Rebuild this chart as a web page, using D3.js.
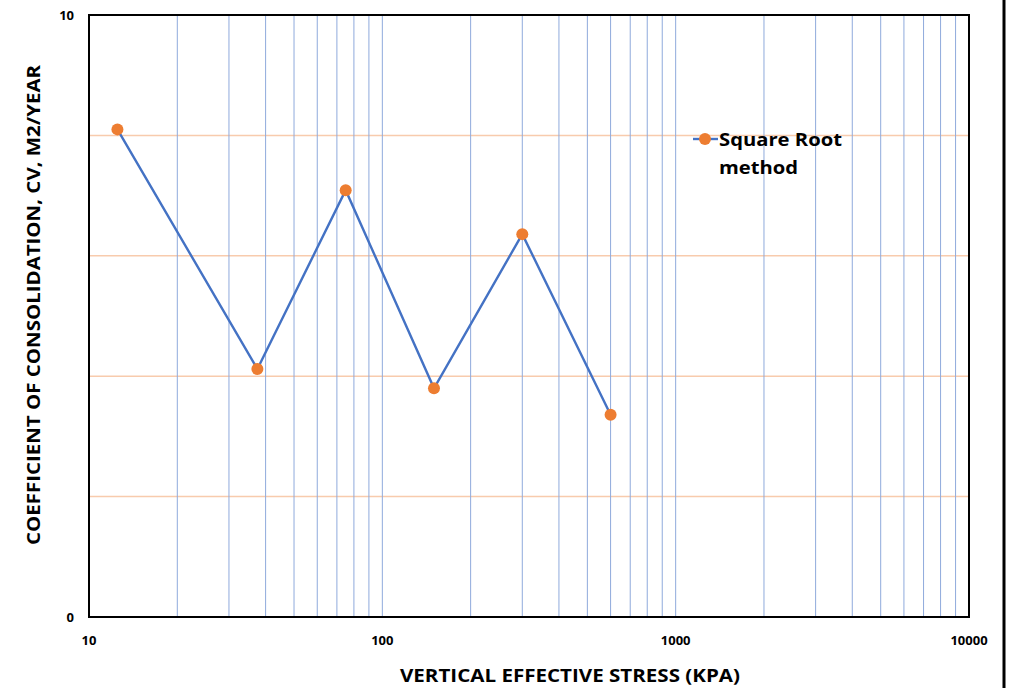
<!DOCTYPE html>
<html><head><meta charset="utf-8">
<script src="https://cdn.jsdelivr.net/npm/d3@7"></script>
<style>body{margin:0;background:#fff}svg{display:block}text{font-family:"Open Sans",Lato,sans-serif;font-weight:bold;fill:#000}</style>
</head><body><svg id="c" width="1009" height="688"></svg>
<script>
const stress = [12.5, 37.5, 75, 150, 300, 600];
const cv = [8.1, 4.12, 7.09, 3.80, 6.36, 3.36];
const seriesName = ["Square Root", "method"];
const xTickLabels = [10, 100, 1000, 10000];
const yTickLabels = [0, 10];
const yGrid = [2, 4, 6, 8];

const svg = d3.select("#c");
const L = 89, R = 969, T = 15, B = 617;
const x = d3.scaleLog().domain([10, 10000]).range([L, R]);
const y = d3.scaleLinear().domain([0, 10]).range([B, T]);

svg.append("g").selectAll("line").data(yGrid).join("line")
  .attr("x1", L).attr("x2", R).attr("y1", d => y(d)).attr("y2", d => y(d))
  .attr("stroke", "#F8CBAD").attr("stroke-width", 1.5);
const vt = [];
for (let d = 10; d < 10000; d *= 10) for (let k = 2; k <= 10; k++) vt.push(d * k);
svg.append("g").selectAll("line").data(vt.filter(v => v < 10000)).join("line")
  .attr("x1", d => x(d)).attr("x2", d => x(d)).attr("y1", T).attr("y2", B)
  .attr("stroke", "#8FAADC").attr("stroke-width", 1);

svg.append("rect").attr("x", L).attr("y", T).attr("width", R - L).attr("height", B - T)
  .attr("fill", "none").attr("stroke", "#000").attr("stroke-width", 2);

svg.append("line").attr("x1", 1004).attr("x2", 1004).attr("y1", 0).attr("y2", 688)
  .attr("stroke", "#000").attr("stroke-width", 3);

const pts = stress.map((s, i) => [s, cv[i]]);
svg.append("path").datum(pts)
  .attr("d", d3.line().x(d => x(d[0])).y(d => y(d[1])))
  .attr("fill", "none").attr("stroke", "#4472C4").attr("stroke-width", 2.4);
svg.append("g").selectAll("circle").data(pts).join("circle")
  .attr("cx", d => x(d[0])).attr("cy", d => y(d[1])).attr("r", 6).attr("fill", "#ED7D31");

svg.append("g").selectAll("text").data(xTickLabels).join("text")
  .attr("x", d => x(d)).attr("y", 645).attr("text-anchor", "middle").attr("font-size", 13).text(d => d);
svg.append("g").selectAll("text").data(yTickLabels).join("text")
  .attr("x", 74).attr("y", d => y(d) + 4.5).attr("text-anchor", "end").attr("font-size", 13).text(d => d);

svg.append("text").attr("x", 570).attr("y", 682).attr("text-anchor", "middle").attr("font-size", 17.5)
  .attr("textLength", 340).attr("lengthAdjust", "spacingAndGlyphs")
  .text("VERTICAL EFFECTIVE STRESS (KPA)");
svg.append("text").attr("transform", "translate(40,305) rotate(-90)").attr("text-anchor", "middle")
  .attr("font-size", 17.5).attr("textLength", 480).attr("lengthAdjust", "spacingAndGlyphs")
  .text("COEFFICIENT OF CONSOLIDATION, CV, M2/YEAR");

svg.append("line").attr("x1", 693).attr("x2", 718).attr("y1", 139).attr("y2", 139)
  .attr("stroke", "#4472C4").attr("stroke-width", 2.4);
svg.append("circle").attr("cx", 705).attr("cy", 139).attr("r", 6).attr("fill", "#ED7D31");
svg.append("text").attr("x", 719).attr("y", 146).attr("font-size", 18.5)
  .attr("textLength", 123).attr("lengthAdjust", "spacingAndGlyphs").text(seriesName[0]);
svg.append("text").attr("x", 719).attr("y", 174).attr("font-size", 18.5)
  .attr("textLength", 79).attr("lengthAdjust", "spacingAndGlyphs").text(seriesName[1]);
</script></body></html>
